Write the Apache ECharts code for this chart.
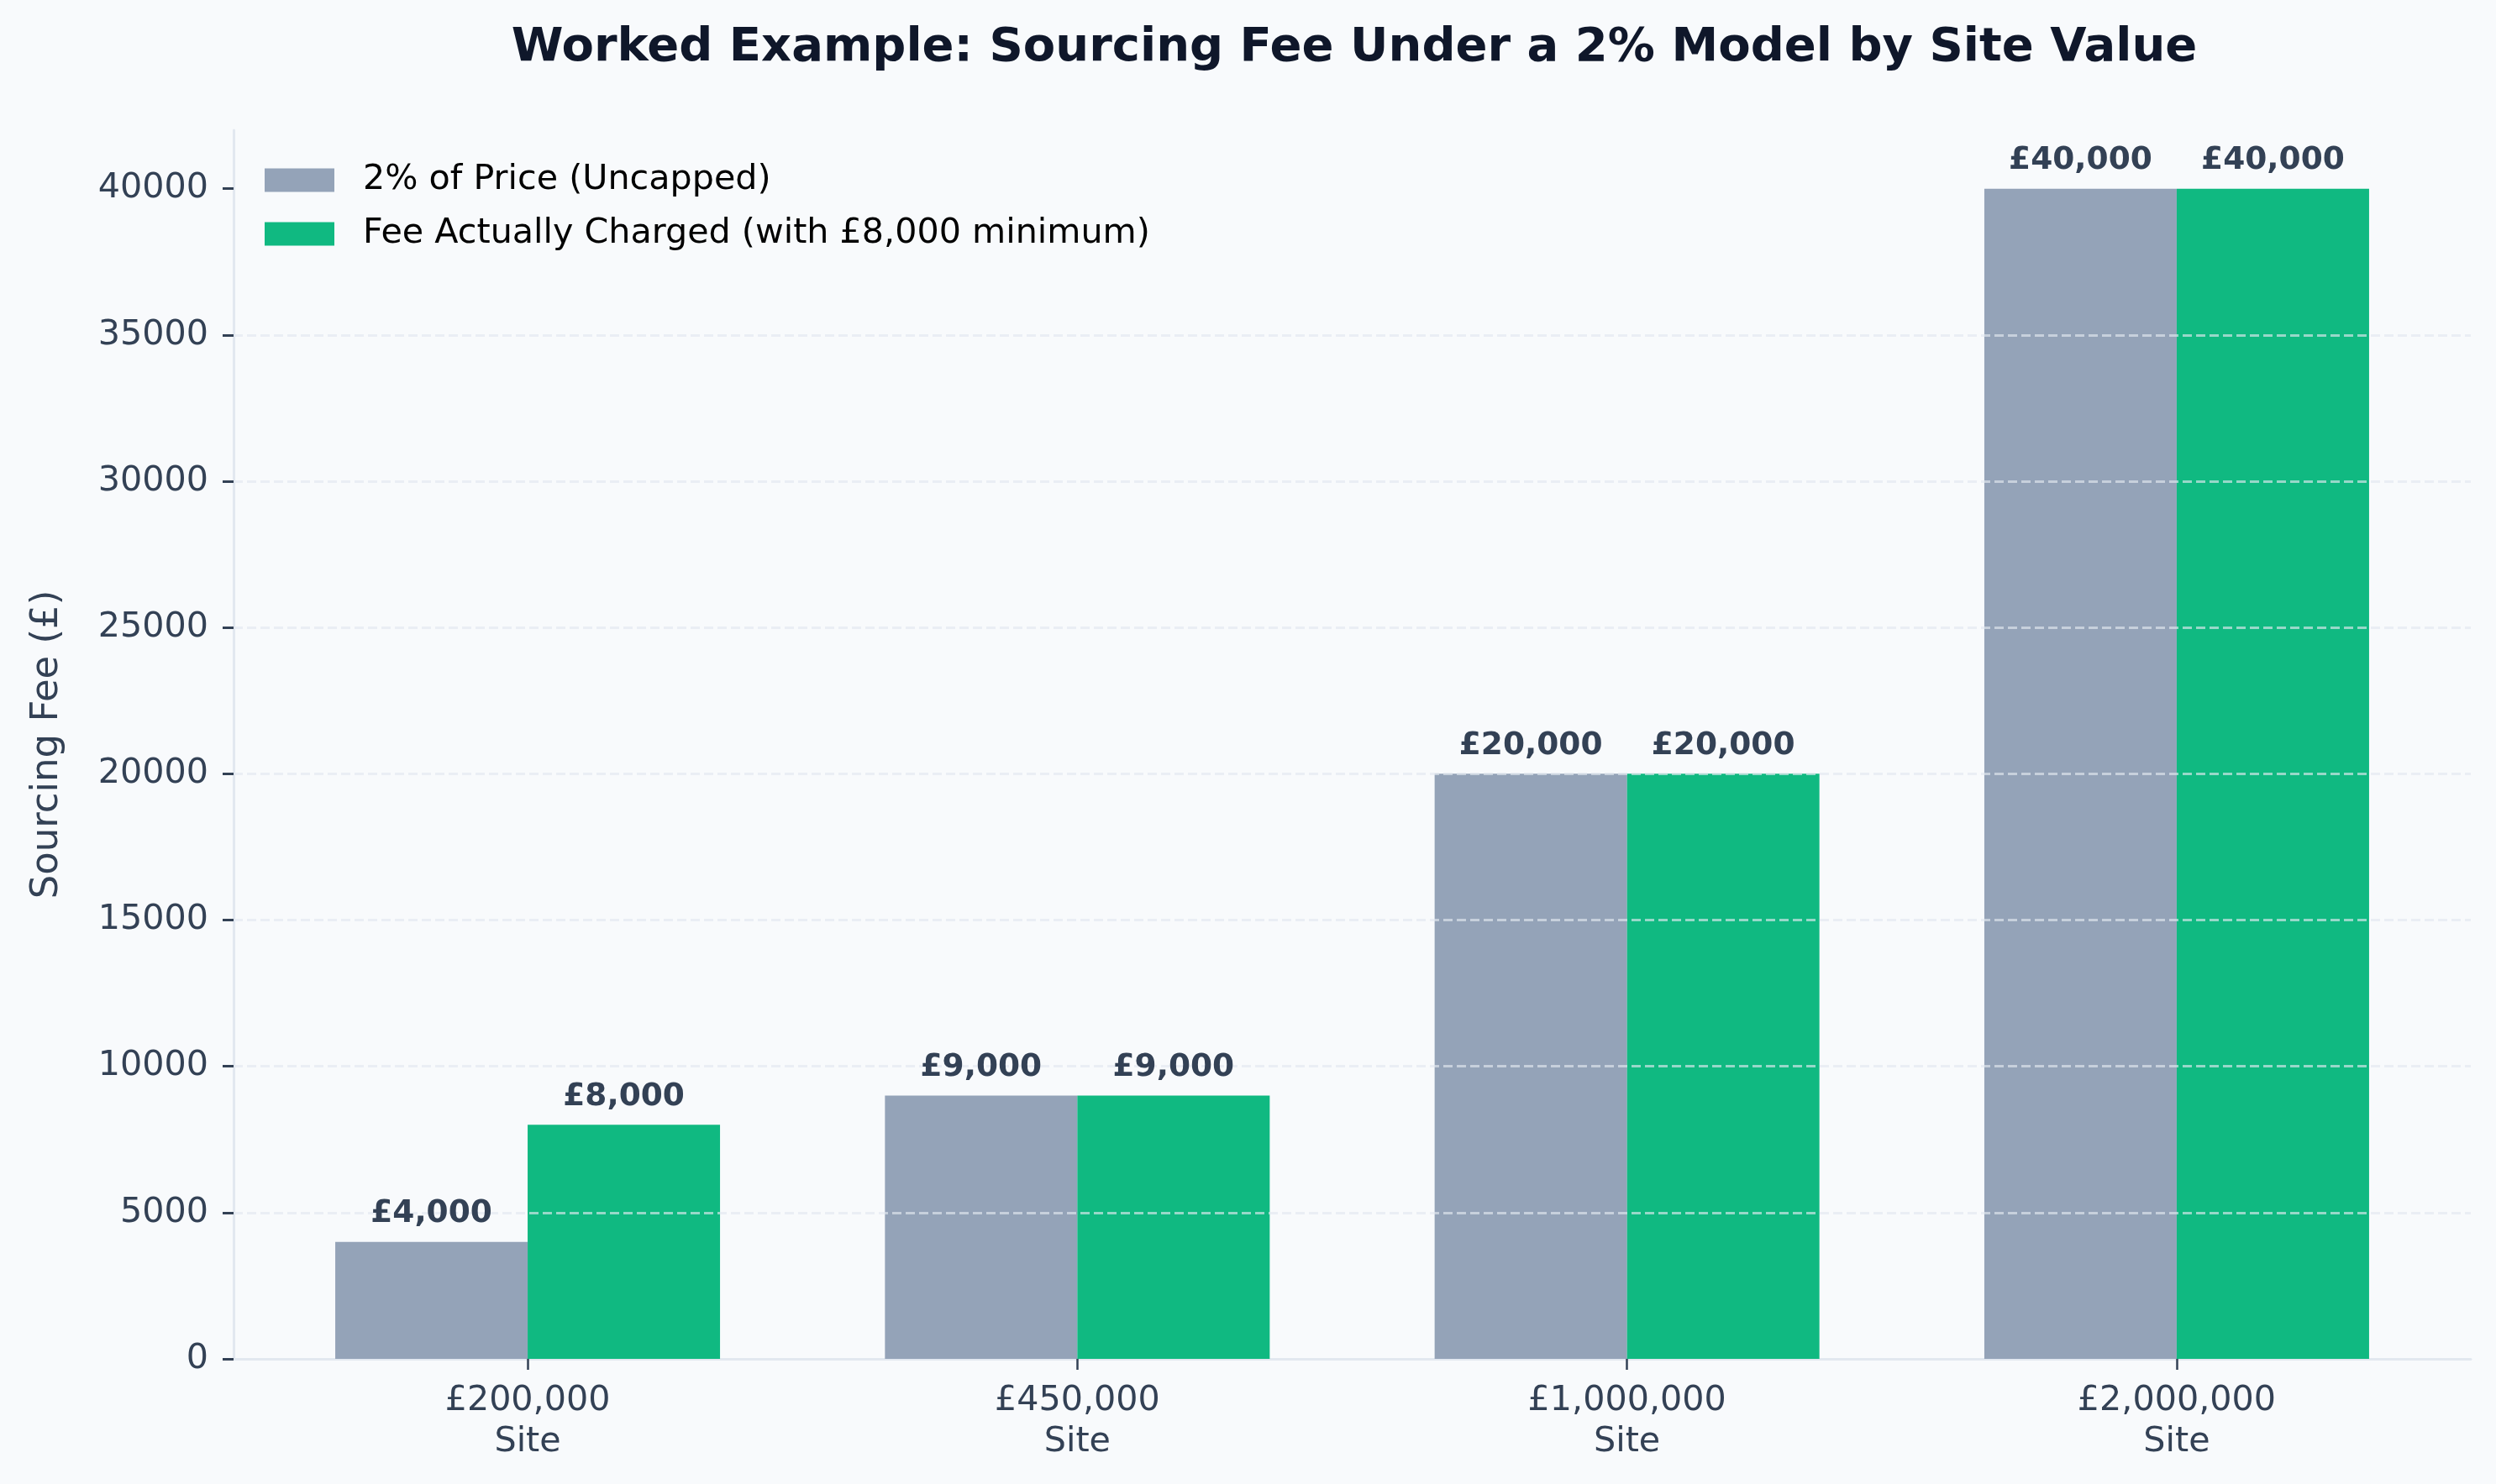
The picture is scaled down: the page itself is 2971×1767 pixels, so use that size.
<!DOCTYPE html>
<html>
<head>
<meta charset="utf-8">
<script src="https://cdn.jsdelivr.net/npm/echarts@6/dist/echarts.min.js"></script>
<style>
html,body{margin:0;padding:0;background:#f8fafc;}
#c{width:2971px;height:1767px;}
</style>
</head>
<body>
<div id="c"></div>
<script>
// ---- data ----
const sitePrices = ['£200,000', '£450,000', '£1,000,000', '£2,000,000'];
const siteSuffix = 'Site';
const uncappedFee = [4000, 9000, 20000, 40000];
const chargedFee = [8000, 9000, 20000, 40000];
const yTicks = [0, 5000, 10000, 15000, 20000, 25000, 30000, 35000, 40000];
const seriesNames = ['2% of Price (Uncapped)', 'Fee Actually Charged (with £8,000 minimum)'];

const FONT = '"DejaVu Sans", sans-serif';
const BAR_FRAC = 0.35;          // bar width in category units
const catIdx = sitePrices.map((_, i) => i);
const fmt = v => '£' + v.toLocaleString('en-GB');

const chart = echarts.init(document.getElementById('c'), null, {renderer: 'canvas'});

function barSeries(name, values, color) {
  return {
    name: name, type: 'bar', barWidth: 229, barGap: '0%', z: 2,
    itemStyle: {color: color},
    data: catIdx.map(i => [i, values[i]])
  };
}
// value labels drawn above the grid lines, positioned through the axes' scales
const labelData = [];
catIdx.forEach(i => { labelData.push([i, uncappedFee[i], 0]); labelData.push([i, chargedFee[i], 1]); });

chart.setOption({
  backgroundColor: '#f8fafc',
  animation: false,
  title: {
    text: 'Worked Example: Sourcing Fee Under a 2% Model by Site Value',
    left: 1607, top: 24, textAlign: 'center',
    textStyle: {fontFamily: FONT, fontWeight: 'bold', fontSize: 56, color: '#0f172a', lineHeight: 56}
  },
  legend: {
    orient: 'vertical', left: 310, top: 189,
    itemWidth: 83, itemHeight: 28, itemGap: 23,
    icon: 'rect',
    textStyle: {fontFamily: FONT, fontSize: 41.25, color: '#000', lineHeight: 41, padding: [0,0,0,29]},
    data: seriesNames
  },
  grid: {left: 278, right: 30, top: 155, bottom: 149},
  xAxis: {
    type: 'value', min: -0.535, max: 3.535,
    axisLine: {show: true, onZero: false, lineStyle: {color: '#e2e8f0', width: 3}},
    axisTick: {show: true, customValues: catIdx, length: 13, lineStyle: {color: '#334155', width: 2.5}},
    axisLabel: {
      customValues: catIdx, margin: 26,
      formatter: v => sitePrices[Math.round(v)] + '\n' + siteSuffix,
      fontFamily: FONT, fontSize: 41.25, color: '#334155', lineHeight: 49
    },
    splitLine: {show: false}
  },
  yAxis: {
    type: 'value', min: 0, max: 42000, z: 5,
    name: 'Sourcing Fee (£)', nameLocation: 'middle', nameGap: 199,
    nameTextStyle: {fontFamily: FONT, fontSize: 45, color: '#334155'},
    axisLine: {show: true, onZero: false, lineStyle: {color: '#e2e8f0', width: 3}},
    axisTick: {show: true, customValues: yTicks, length: 13, lineStyle: {color: '#334155', width: 3}},
    axisLabel: {customValues: yTicks, margin: 30, formatter: v => String(v),
      fontFamily: FONT, fontSize: 41.25, color: '#334155'},
    splitLine: {show: true, showMinLine: false, showMaxLine: false,
      lineStyle: {color: 'rgba(226,232,240,0.65)', width: 3, type: [11, 5]}}
  },
  series: [
    barSeries(seriesNames[0], uncappedFee, '#94a3b8'),
    barSeries(seriesNames[1], chargedFee, '#10b981'),
    {
      name: 'value-labels', type: 'custom', z: 10, silent: true,
      data: labelData,
      renderItem: function (params, api) {
        const p = api.coord([api.value(0), api.value(1)]);
        const w = api.size([BAR_FRAC, 0])[0];
        const dx = api.value(2) === 0 ? -w / 2 : w / 2;
        return {
          type: 'text',
          style: {
            text: fmt(api.value(1)), x: p[0] + dx, y: p[1] - 14,
            align: 'center', verticalAlign: 'bottom',
            font: 'bold 37.5px ' + FONT, fill: '#334155'
          }
        };
      }
    }
  ]
});
</script>
</body>
</html>
